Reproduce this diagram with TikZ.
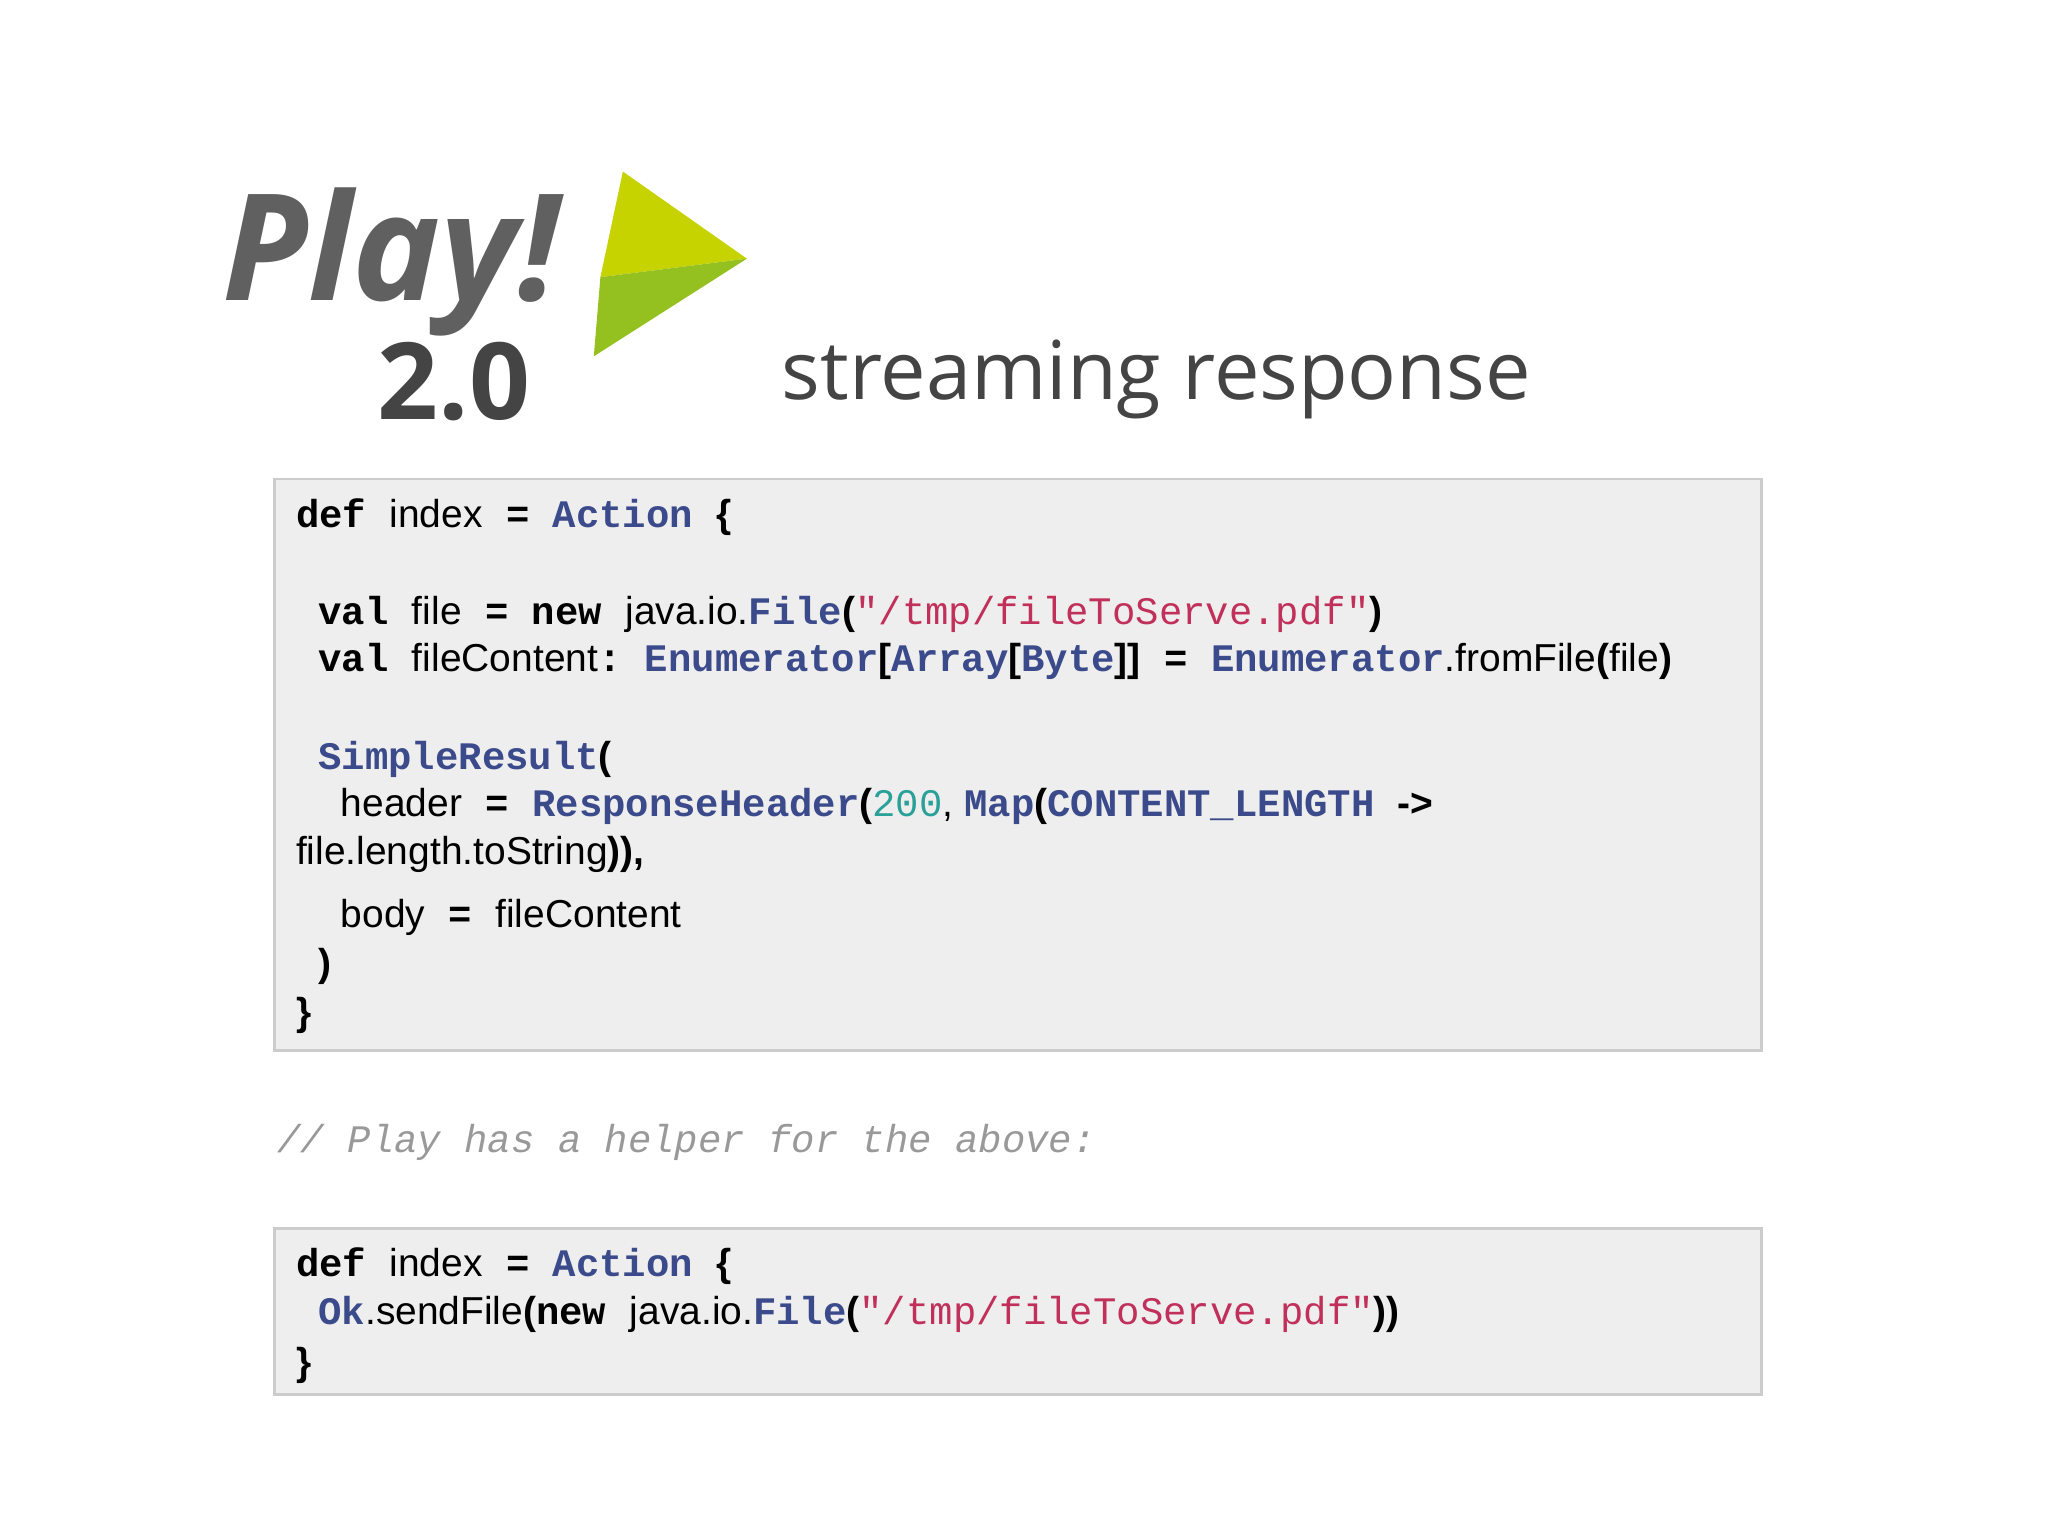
\documentclass[tikz,border=0pt]{standalone}
\usepackage{fontspec}
\setmainfont{Liberation Sans}
\newfontfamily\mono{Liberation Mono}
\newfontfamily\titlef{Open Sans}
\definecolor{kwblue}{HTML}{3B4A8A}
\definecolor{strred}{HTML}{C0305A}
\definecolor{numteal}{HTML}{2AA198}
\definecolor{boxfill}{HTML}{EEEEEE}
\definecolor{boxline}{HTML}{CCCCCC}
\definecolor{titlegray}{HTML}{444444}
\definecolor{lgreen}{HTML}{C6D300}
\definecolor{dgreen}{HTML}{94C11F}
\newcommand\kw[1]{{\mono\bfseries #1}}
\newcommand\ty[1]{{\mono\bfseries\color{kwblue}#1}}
\newcommand\st[1]{{\mono\color{strred}#1}}
\newcommand\nm[1]{{\mono\color{numteal}#1}}
\newcommand\msp{{\mono\ }}
\newcommand\eq{\msp\kw{=}\msp}
\begin{document}
\begin{tikzpicture}[x=0.02cm,y=-0.02cm,
  code/.style={anchor=base west,inner sep=0pt,font=\fontsize{16.8}{20}\selectfont},
  codebox/.style={fill=boxfill,draw=boxline,line width=1.2pt}]
\useasboundingbox[fill=white] (0,0) rectangle (1552,1164);
% logo
\fill[lgreen] (472,130) -- (566,196) -- (455,210) -- cycle;
\fill[dgreen] (455,210) -- (566,196) -- (450,270) -- cycle;
\node[anchor=base west,inner sep=0pt,font=\titlef\bfseries\itshape\fontsize{64}{66}\selectfont,text=titlegray!85] (play) at (168,228) {Play!};
\node[anchor=base west,inner sep=0pt,font=\titlef\bfseries\fontsize{46}{50}\selectfont,text=titlegray] (ver) at (286,318) {2.0};
\node[anchor=base west,inner sep=0pt,font=\titlef\fontsize{35}{40}\selectfont,text=titlegray] (title) at (592,303) {streaming response};
% box 1
\draw[codebox] (208,363) rectangle (1335,796);
\node[code] (l1) at (224,400) {\kw{def}\msp index\eq\ty{Action}\msp\textbf{\{}};
\node[code] (l2) at (241,473) {\kw{val}\msp file\eq\kw{new}\msp java.io.\ty{File}\textbf{(}\st{"/tmp/fileToServe.pdf"}\textbf{)}};
\node[code] (l3) at (241,509) {\kw{val}\msp fileContent\kw{:}\msp\ty{Enumerator}\textbf{[}\ty{Array}\textbf{[}\ty{Byte}\textbf{]]}\eq\ty{Enumerator}.fromFile\textbf{(}file\textbf{)}};
\node[code] (l4) at (241,583) {\ty{SimpleResult}\textbf{(}};
\node[code] (l5) at (258,619) {header\eq\ty{ResponseHeader}\textbf{(}\nm{200}, \ty{Map}\textbf{(}\ty{CONTENT\_LENGTH}\msp\textbf{->}};
\node[code] (l6) at (224,655) {file.length.toString\textbf{)),}};
\node[code] (l7) at (258,703) {body\eq fileContent};
\node[code] (l8) at (241,740) {\textbf{)}};
\node[code] (l9) at (224,777) {\textbf{\}}};
% comment
\node[code,text=gray!80] (cm) at (210,873) {\mono\itshape // Play has a helper for the above:};
% box 2
\draw[codebox] (208,931) rectangle (1335,1057);
\node[code] (m1) at (224,967) {\kw{def}\msp index\eq\ty{Action}\msp\textbf{\{}};
\node[code] (m2) at (241,1004) {\ty{Ok}.sendFile\textbf{(}\kw{new}\msp java.io.\ty{File}\textbf{(}\st{"/tmp/fileToServe.pdf"}\textbf{))}};
\node[code] (m3) at (224,1042) {\textbf{\}}};
\end{tikzpicture}
\end{document}
